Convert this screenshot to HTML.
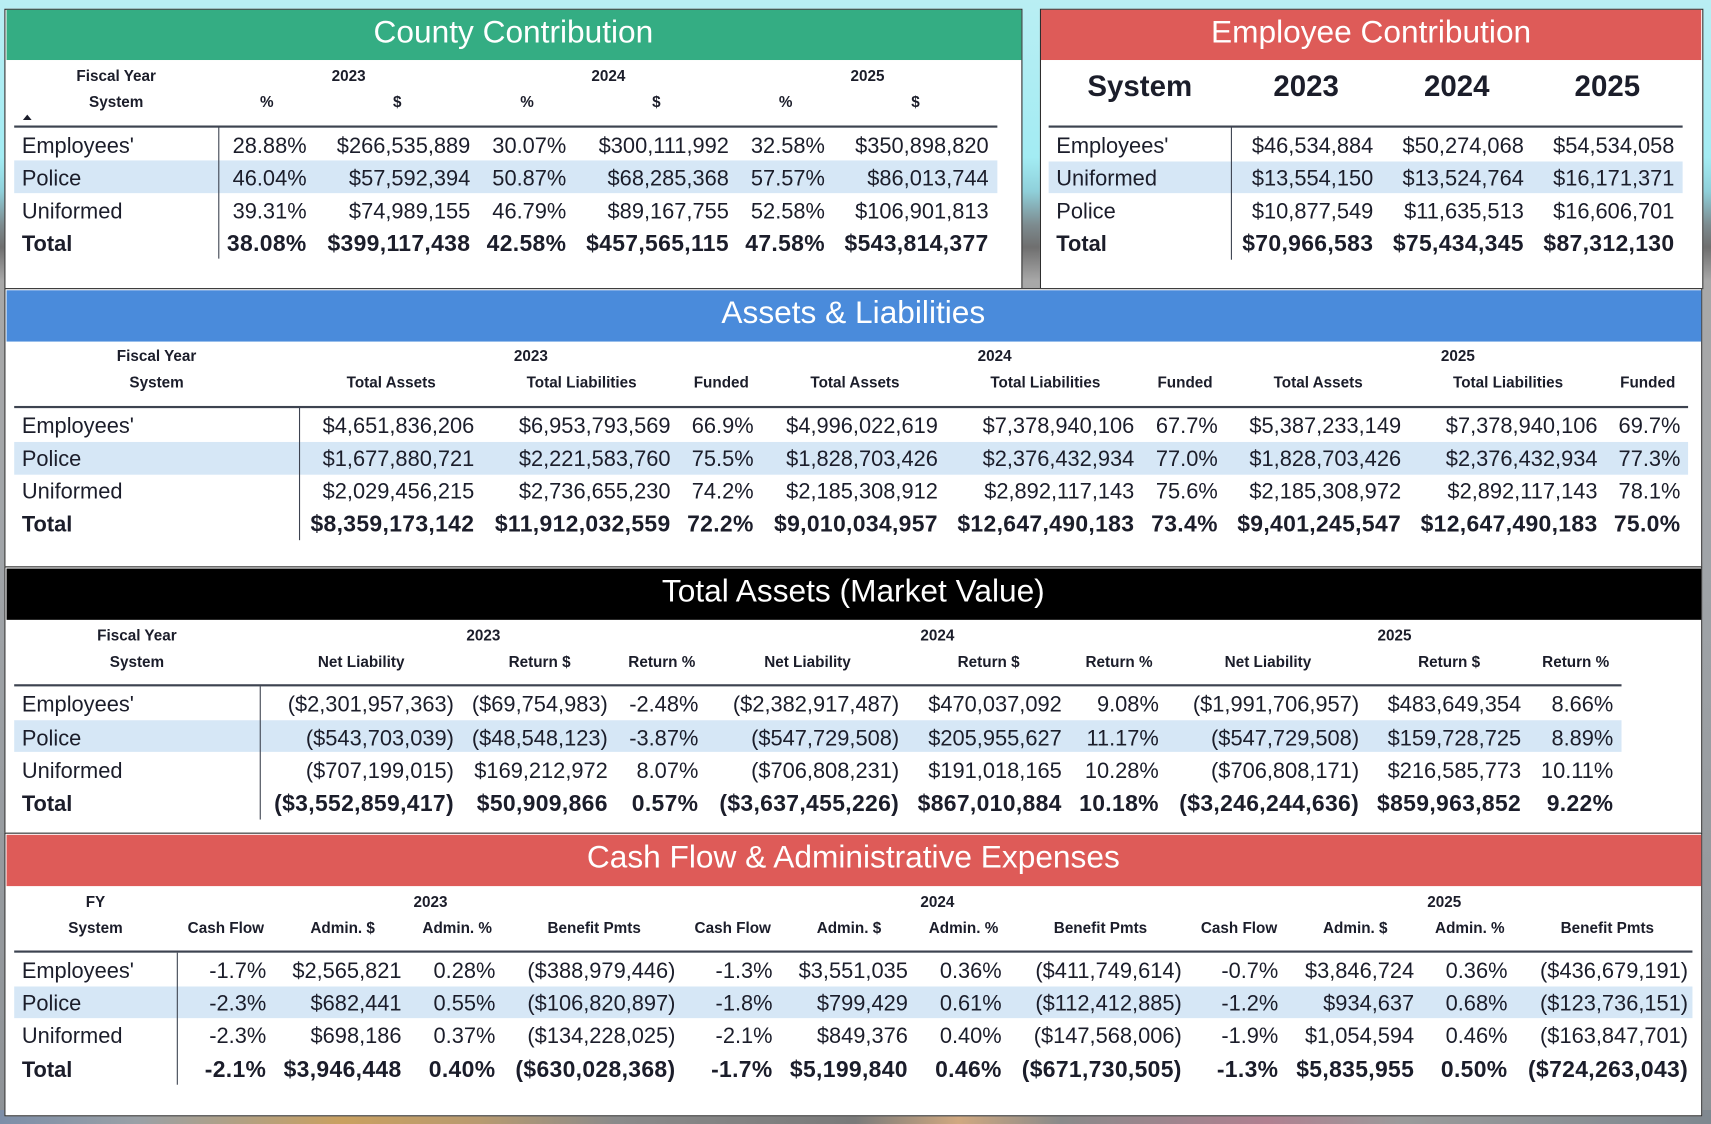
<!DOCTYPE html>
<html><head><meta charset="utf-8"><style>
html,body{margin:0;padding:0}
body{width:1711px;height:1124px;overflow:hidden;position:relative;
background:linear-gradient(180deg,#b9eef3 0%,#a3ecf3 14%,#8fd0da 17%,#7d8b8f 20%,#6f6f6f 22%,#a8a8a8 25%,#a0a4a8 50%,#8e9296 100%);}
#bot{position:absolute;left:0;top:1110px;width:1711px;height:14px;
background:linear-gradient(90deg,#7d8ea8 0%,#9aa0a6 8%,#c9a060 20%,#b89a70 28%,#8a8a8a 36%,#7a7a7a 50%,#d0a880 56%,#8a8a8a 62%,#b08090 74%,#9a9a9a 82%,#7f8890 100%);}
#s{position:absolute;left:0;top:0;width:1568px;height:1030px;transform:scale(1.09120,1.09126);transform-origin:0 0;font-family:"Liberation Sans",Arial,sans-serif;color:#1b1d2a}
.p{position:absolute;background:#fff;border:1.5px solid #2e2e2e;box-sizing:border-box}
.hd{position:absolute;color:#fff;font-size:29px;text-align:center;white-space:nowrap}
.ln{position:absolute;background:#3d4350}
.hl{position:absolute;background:#d6e7f6}
.row{position:absolute;left:0;width:1568px;height:24px}
.row span{position:absolute;top:0;white-space:nowrap;font-size:20px;line-height:24px;transform:translateX(-100%)}
.row span.l{transform:none}
.row.b span{font-weight:bold;font-size:21px;letter-spacing:.3px}
.row.b span.l{font-size:20px;letter-spacing:0}
.h{position:absolute;white-space:nowrap;font-weight:bold;font-size:14px;line-height:18px;transform:translateX(-50%)}
.H{position:absolute;white-space:nowrap;font-weight:bold;font-size:27px;line-height:32px;transform:translateX(-50%)}
</style></head><body>
<div id="bot"></div>
<div id="s">
<!-- Panels -->
<div class="p" style="left:4px;top:7.5px;width:933px;height:257px"></div>
<div class="p" style="left:952.5px;top:7.5px;width:608px;height:257px"></div>
<div class="p" style="left:4px;top:264px;width:1556px;height:256px"></div>
<div class="p" style="left:4px;top:519px;width:1556px;height:245px"></div>
<div class="p" style="left:4px;top:763px;width:1556px;height:260px"></div>

<div class="hd" style="left:5.5px;top:9px;width:930px;height:46px;background:#34ad83"></div>
<div class="hd" style="left:5.5px;top:7px;width:930px;line-height:46px">County Contribution</div>
<div class="hd" style="left:954px;top:9px;width:605px;height:46px;background:#de5b58"></div>
<div class="hd" style="left:954px;top:7px;width:605px;line-height:46px">Employee Contribution</div>
<div class="hd" style="left:5.5px;top:265.5px;width:1553px;height:47.5px;background:#4a8bdb"></div>
<div class="hd" style="left:5.5px;top:264px;width:1553px;line-height:47.5px">Assets &amp; Liabilities</div>
<div class="hd" style="left:5.5px;top:520.5px;width:1553px;height:47.5px;background:#000"></div>
<div class="hd" style="left:5.5px;top:519px;width:1553px;line-height:47.5px">Total Assets (Market Value)</div>
<div class="hd" style="left:5.5px;top:764.5px;width:1553px;height:47.5px;background:#de5b58"></div>
<div class="hd" style="left:5.5px;top:763px;width:1553px;line-height:47.5px">Cash Flow &amp; Administrative Expenses</div>

<!-- Highlights -->
<div class="hl" style="left:13px;top:147px;width:901px;height:30px"></div>
<div class="hl" style="left:961px;top:148px;width:581px;height:29px"></div>
<div class="hl" style="left:13px;top:405px;width:1534px;height:29.5px"></div>
<div class="hl" style="left:13px;top:660px;width:1473px;height:29px"></div>
<div class="hl" style="left:13px;top:904px;width:1538px;height:29px"></div>

<!-- Lines -->
<div class="ln" style="left:13px;top:114.5px;width:901px;height:2px"></div>
<div class="ln" style="left:199.5px;top:116px;width:1.5px;height:121px"></div>
<div class="ln" style="left:961px;top:115px;width:581px;height:2px"></div>
<div class="ln" style="left:1127.5px;top:116px;width:1.5px;height:122px"></div>
<div class="ln" style="left:13px;top:371.7px;width:1534px;height:2px"></div>
<div class="ln" style="left:273.5px;top:373px;width:1.5px;height:122px"></div>
<div class="ln" style="left:13px;top:627.3px;width:1473px;height:2px"></div>
<div class="ln" style="left:237.5px;top:629px;width:1.5px;height:122px"></div>
<div class="ln" style="left:13px;top:871.1px;width:1538px;height:2px"></div>
<div class="ln" style="left:161.5px;top:873px;width:1.5px;height:121px"></div>

<!-- Panel 1 headers -->
<div class="h" style="left:106.5px;top:59.7px">Fiscal Year</div>
<div class="h" style="left:106.5px;top:83.6px">System</div>
<div class="h" style="left:319.5px;top:59.7px">2023</div>
<div class="h" style="left:557.5px;top:59.7px">2024</div>
<div class="h" style="left:795px;top:59.7px">2025</div>
<div class="h" style="left:244.5px;top:83.6px">%</div>
<div class="h" style="left:364px;top:83.6px">$</div>
<div class="h" style="left:483px;top:83.6px">%</div>
<div class="h" style="left:601.5px;top:83.6px">$</div>
<div class="h" style="left:720px;top:83.6px">%</div>
<div class="h" style="left:839px;top:83.6px">$</div>
<div style="position:absolute;left:21px;top:105px;width:0;height:0;border-left:4.5px solid transparent;border-right:4.5px solid transparent;border-bottom:5px solid #1b1d2a"></div>

<div class="row" style="top:121.5px"><span class="l" style="left:20px">Employees'</span><span style="left:281px">28.88%</span><span style="left:431px">$266,535,889</span><span style="left:519px">30.07%</span><span style="left:668px">$300,111,992</span><span style="left:756px">32.58%</span><span style="left:906px">$350,898,820</span></div>
<div class="row" style="top:151.5px"><span class="l" style="left:20px">Police</span><span style="left:281px">46.04%</span><span style="left:431px">$57,592,394</span><span style="left:519px">50.87%</span><span style="left:668px">$68,285,368</span><span style="left:756px">57.57%</span><span style="left:906px">$86,013,744</span></div>
<div class="row" style="top:181.5px"><span class="l" style="left:20px">Uniformed</span><span style="left:281px">39.31%</span><span style="left:431px">$74,989,155</span><span style="left:519px">46.79%</span><span style="left:668px">$89,167,755</span><span style="left:756px">52.58%</span><span style="left:906px">$106,901,813</span></div>
<div class="row b" style="top:212px"><span class="l" style="left:20px">Total</span><span style="left:281px">38.08%</span><span style="left:431px">$399,117,438</span><span style="left:519px">42.58%</span><span style="left:668px">$457,565,115</span><span style="left:756px">47.58%</span><span style="left:906px">$543,814,377</span></div>

<!-- Panel 2 -->
<div class="H" style="left:1044.5px;top:63.4px">System</div>
<div class="H" style="left:1197px;top:63.4px">2023</div>
<div class="H" style="left:1335px;top:63.4px">2024</div>
<div class="H" style="left:1473px;top:63.4px">2025</div>
<div class="row" style="top:121.5px"><span class="l" style="left:968px">Employees'</span><span style="left:1258.5px">$46,534,884</span><span style="left:1396.5px">$50,274,068</span><span style="left:1534.5px">$54,534,058</span></div>
<div class="row" style="top:151.5px"><span class="l" style="left:968px">Uniformed</span><span style="left:1258.5px">$13,554,150</span><span style="left:1396.5px">$13,524,764</span><span style="left:1534.5px">$16,171,371</span></div>
<div class="row" style="top:181.5px"><span class="l" style="left:968px">Police</span><span style="left:1258.5px">$10,877,549</span><span style="left:1396.5px">$11,635,513</span><span style="left:1534.5px">$16,606,701</span></div>
<div class="row b" style="top:212px"><span class="l" style="left:968px">Total</span><span style="left:1258.5px">$70,966,583</span><span style="left:1396.5px">$75,434,345</span><span style="left:1534.5px">$87,312,130</span></div>

<!-- Panel 3 -->
<div class="h" style="left:143.5px;top:317.2px">Fiscal Year</div>
<div class="h" style="left:143.5px;top:341px">System</div>
<div class="h" style="left:486.5px;top:317.2px">2023</div>
<div class="h" style="left:911.5px;top:317.2px">2024</div>
<div class="h" style="left:1336px;top:317.2px">2025</div>
<div class="h" style="left:358.5px;top:341px">Total Assets</div>
<div class="h" style="left:533px;top:341px">Total Liabilities</div>
<div class="h" style="left:661px;top:341px">Funded</div>
<div class="h" style="left:783.5px;top:341px">Total Assets</div>
<div class="h" style="left:958px;top:341px">Total Liabilities</div>
<div class="h" style="left:1086px;top:341px">Funded</div>
<div class="h" style="left:1208px;top:341px">Total Assets</div>
<div class="h" style="left:1382px;top:341px">Total Liabilities</div>
<div class="h" style="left:1510px;top:341px">Funded</div>
<div class="row" style="top:379px"><span class="l" style="left:20px">Employees'</span><span style="left:434.7px">$4,651,836,206</span><span style="left:614.5px">$6,953,793,569</span><span style="left:690.7px">66.9%</span><span style="left:859.5px">$4,996,022,619</span><span style="left:1039.5px">$7,378,940,106</span><span style="left:1116px">67.7%</span><span style="left:1284px">$5,387,233,149</span><span style="left:1464px">$7,378,940,106</span><span style="left:1540px">69.7%</span></div>
<div class="row" style="top:409px"><span class="l" style="left:20px">Police</span><span style="left:434.7px">$1,677,880,721</span><span style="left:614.5px">$2,221,583,760</span><span style="left:690.7px">75.5%</span><span style="left:859.5px">$1,828,703,426</span><span style="left:1039.5px">$2,376,432,934</span><span style="left:1116px">77.0%</span><span style="left:1284px">$1,828,703,426</span><span style="left:1464px">$2,376,432,934</span><span style="left:1540px">77.3%</span></div>
<div class="row" style="top:439px"><span class="l" style="left:20px">Uniformed</span><span style="left:434.7px">$2,029,456,215</span><span style="left:614.5px">$2,736,655,230</span><span style="left:690.7px">74.2%</span><span style="left:859.5px">$2,185,308,912</span><span style="left:1039.5px">$2,892,117,143</span><span style="left:1116px">75.6%</span><span style="left:1284px">$2,185,308,972</span><span style="left:1464px">$2,892,117,143</span><span style="left:1540px">78.1%</span></div>
<div class="row b" style="top:469px"><span class="l" style="left:20px">Total</span><span style="left:434.7px">$8,359,173,142</span><span style="left:614.5px">$11,912,032,559</span><span style="left:690.7px">72.2%</span><span style="left:859.5px">$9,010,034,957</span><span style="left:1039.5px">$12,647,490,183</span><span style="left:1116px">73.4%</span><span style="left:1284px">$9,401,245,547</span><span style="left:1464px">$12,647,490,183</span><span style="left:1540px">75.0%</span></div>

<!-- Panel 4 -->
<div class="h" style="left:125.5px;top:573px">Fiscal Year</div>
<div class="h" style="left:125.5px;top:597px">System</div>
<div class="h" style="left:443px;top:573px">2023</div>
<div class="h" style="left:859px;top:573px">2024</div>
<div class="h" style="left:1278px;top:573px">2025</div>
<div class="h" style="left:331px;top:597px">Net Liability</div>
<div class="h" style="left:494.5px;top:597px">Return $</div>
<div class="h" style="left:606.5px;top:597px">Return %</div>
<div class="h" style="left:740px;top:597px">Net Liability</div>
<div class="h" style="left:906px;top:597px">Return $</div>
<div class="h" style="left:1025.5px;top:597px">Return %</div>
<div class="h" style="left:1162px;top:597px">Net Liability</div>
<div class="h" style="left:1328px;top:597px">Return $</div>
<div class="h" style="left:1444px;top:597px">Return %</div>
<div class="row" style="top:634px"><span class="l" style="left:20px">Employees'</span><span style="left:416px">($2,301,957,363)</span><span style="left:557px">($69,754,983)</span><span style="left:640px">-2.48%</span><span style="left:824px">($2,382,917,487)</span><span style="left:973px">$470,037,092</span><span style="left:1062px">9.08%</span><span style="left:1245.5px">($1,991,706,957)</span><span style="left:1394px">$483,649,354</span><span style="left:1478.5px">8.66%</span></div>
<div class="row" style="top:664.5px"><span class="l" style="left:20px">Police</span><span style="left:416px">($543,703,039)</span><span style="left:557px">($48,548,123)</span><span style="left:640px">-3.87%</span><span style="left:824px">($547,729,508)</span><span style="left:973px">$205,955,627</span><span style="left:1062px">11.17%</span><span style="left:1245.5px">($547,729,508)</span><span style="left:1394px">$159,728,725</span><span style="left:1478.5px">8.89%</span></div>
<div class="row" style="top:694.5px"><span class="l" style="left:20px">Uniformed</span><span style="left:416px">($707,199,015)</span><span style="left:557px">$169,212,972</span><span style="left:640px">8.07%</span><span style="left:824px">($706,808,231)</span><span style="left:973px">$191,018,165</span><span style="left:1062px">10.28%</span><span style="left:1245.5px">($706,808,171)</span><span style="left:1394px">$216,585,773</span><span style="left:1478.5px">10.11%</span></div>
<div class="row b" style="top:725px"><span class="l" style="left:20px">Total</span><span style="left:416px">($3,552,859,417)</span><span style="left:557px">$50,909,866</span><span style="left:640px">0.57%</span><span style="left:824px">($3,637,455,226)</span><span style="left:973px">$867,010,884</span><span style="left:1062px">10.18%</span><span style="left:1245.5px">($3,246,244,636)</span><span style="left:1394px">$859,963,852</span><span style="left:1478.5px">9.22%</span></div>

<!-- Panel 5 -->
<div class="h" style="left:87.5px;top:817px">FY</div>
<div class="h" style="left:87.5px;top:840.8px">System</div>
<div class="h" style="left:394.5px;top:817px">2023</div>
<div class="h" style="left:859px;top:817px">2024</div>
<div class="h" style="left:1323.5px;top:817px">2025</div>
<div class="h" style="left:207px;top:840.8px">Cash Flow</div>
<div class="h" style="left:314px;top:840.8px">Admin. $</div>
<div class="h" style="left:419px;top:840.8px">Admin. %</div>
<div class="h" style="left:544.5px;top:840.8px">Benefit Pmts</div>
<div class="h" style="left:671.5px;top:840.8px">Cash Flow</div>
<div class="h" style="left:778px;top:840.8px">Admin. $</div>
<div class="h" style="left:883px;top:840.8px">Admin. %</div>
<div class="h" style="left:1008.5px;top:840.8px">Benefit Pmts</div>
<div class="h" style="left:1135.5px;top:840.8px">Cash Flow</div>
<div class="h" style="left:1242px;top:840.8px">Admin. $</div>
<div class="h" style="left:1347px;top:840.8px">Admin. %</div>
<div class="h" style="left:1473px;top:840.8px">Benefit Pmts</div>
<div class="row" style="top:878px"><span class="l" style="left:20px">Employees'</span><span style="left:244px">-1.7%</span><span style="left:368px">$2,565,821</span><span style="left:454px">0.28%</span><span style="left:619px">($388,979,446)</span><span style="left:708px">-1.3%</span><span style="left:832px">$3,551,035</span><span style="left:918px">0.36%</span><span style="left:1083px">($411,749,614)</span><span style="left:1171.5px">-0.7%</span><span style="left:1296px">$3,846,724</span><span style="left:1381.5px">0.36%</span><span style="left:1547px">($436,679,191)</span></div>
<div class="row" style="top:908px"><span class="l" style="left:20px">Police</span><span style="left:244px">-2.3%</span><span style="left:368px">$682,441</span><span style="left:454px">0.55%</span><span style="left:619px">($106,820,897)</span><span style="left:708px">-1.8%</span><span style="left:832px">$799,429</span><span style="left:918px">0.61%</span><span style="left:1083px">($112,412,885)</span><span style="left:1171.5px">-1.2%</span><span style="left:1296px">$934,637</span><span style="left:1381.5px">0.68%</span><span style="left:1547px">($123,736,151)</span></div>
<div class="row" style="top:938px"><span class="l" style="left:20px">Uniformed</span><span style="left:244px">-2.3%</span><span style="left:368px">$698,186</span><span style="left:454px">0.37%</span><span style="left:619px">($134,228,025)</span><span style="left:708px">-2.1%</span><span style="left:832px">$849,376</span><span style="left:918px">0.40%</span><span style="left:1083px">($147,568,006)</span><span style="left:1171.5px">-1.9%</span><span style="left:1296px">$1,054,594</span><span style="left:1381.5px">0.46%</span><span style="left:1547px">($163,847,701)</span></div>
<div class="row b" style="top:968.5px"><span class="l" style="left:20px">Total</span><span style="left:244px">-2.1%</span><span style="left:368px">$3,946,448</span><span style="left:454px">0.40%</span><span style="left:619px">($630,028,368)</span><span style="left:708px">-1.7%</span><span style="left:832px">$5,199,840</span><span style="left:918px">0.46%</span><span style="left:1083px">($671,730,505)</span><span style="left:1171.5px">-1.3%</span><span style="left:1296px">$5,835,955</span><span style="left:1381.5px">0.50%</span><span style="left:1547px">($724,263,043)</span></div>
</div>
</body></html>
